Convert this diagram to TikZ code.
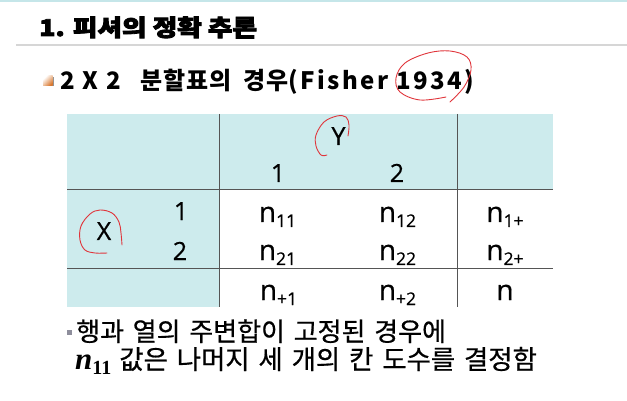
\documentclass[tikz,border=0pt]{standalone}
\usepackage{fontspec}
\newfontfamily\krfont[WordSpace=1.5, FakeBold=0.6]{Noto Sans CJK KR}
\newfontfamily\krsub[WordSpace=2, LetterSpace=3]{Noto Sans CJK KR}
\newfontfamily\sublat[LetterSpace=10]{Noto Sans CJK KR}
\newfontfamily\titlefont[FakeBold=3.5]{Noto Sans CJK KR}
\newfontfamily\tabfont[FakeBold=0.6]{Open Sans}
\newfontfamily\serifmath{Liberation Serif}
\definecolor{cellcyan}{HTML}{CDEBED}
\definecolor{stripcyan}{HTML}{C5E6E9}
\definecolor{rulegray}{HTML}{D6D6D6}
\definecolor{penred}{HTML}{E0353B}
\definecolor{gridgray}{HTML}{555555}
\definecolor{bulletgray}{HTML}{8E8E9C}
\definecolor{bulletorange}{HTML}{D9782F}
\newcommand{\cellN}[1]{{\fontsize{28}{28}\selectfont n}\raisebox{-5pt}{\fontsize{17.5}{17.5}\selectfont #1}}
\tikzset{
  redpen/.style={draw=penred, line width=0.9pt, line cap=round},
  gridline/.style={draw=gridgray, line width=1pt},
  tabtext/.style={anchor=base, inner sep=0pt, font=\tabfont\fontsize{25}{25}\selectfont},
  ntext/.style={anchor=base, inner sep=0pt, font=\tabfont},
  textline/.style={anchor=base west, inner sep=0pt},
}
\begin{document}
\begin{tikzpicture}[x=1pt,y=-1pt]
\useasboundingbox (0,0) rectangle (627,401);
% top strip and rule
\fill[stripcyan] (0,0) rectangle (627,2.5);
\coordinate (ruleL) at (16,45);
\coordinate (ruleR) at (627,45);
\draw[rulegray, line width=1.5pt] (ruleL) -- (ruleR);
% title
\node[textline] (title) at (39,36)
  {\scalebox{1.16}[1]{\titlefont\bfseries\fontsize{23}{23}\selectfont 1. 피셔의 정확 추론}};
% subtitle bullet
\fill[gray!85] (44.3,77.3) rectangle (53.5,86.5);
\shade[top color=white, bottom color=bulletorange, shading angle=45] (43,76) rectangle (52.5,85.5);
\node[textline] (subtitle) at (60,90)
  {\bfseries\fontsize{24}{24}\selectfont{\sublat 2 X 2}\hspace{20pt}{\krsub 분할표의 경우}{\sublat (Fisher 1934)}};
% table
\coordinate (TL) at (67,114);
\coordinate (BR) at (553,307);
\coordinate (V1t) at (219,114);
\coordinate (V1b) at (219,307);
\coordinate (V2t) at (457,114);
\coordinate (V2b) at (457,307);
\coordinate (H1l) at (67,190);
\coordinate (H1r) at (553,190);
\coordinate (H2l) at (67,268);
\coordinate (H2r) at (553,268);
\fill[cellcyan] (TL) rectangle (BR);
\fill[white] (219,190) rectangle (BR);
\draw[gridline] (H1l) -- (H1r);
\draw[gridline] (H2l) -- (H2r);
\draw[gridline] (V1t) -- (V1b);
\draw[gridline] (V2t) -- (V2b);
% header texts
\node[tabtext] (Y) at (338.5,145) {Y};
\node[tabtext] (c1) at (278,182) {1};
\node[tabtext] (c2) at (397,182) {2};
\node[tabtext] (X) at (104,240) {X};
\node[tabtext] (r1) at (181,220) {1};
\node[tabtext] (r2) at (180,260) {2};
% cells
\node[ntext] (n11) at (277.5,222) {\cellN{11}};
\node[ntext] (n12) at (397.5,222) {\cellN{12}};
\node[ntext] (n1p) at (505,222) {\cellN{1+}};
\node[ntext] (n21) at (277.5,260) {\cellN{21}};
\node[ntext] (n22) at (397.5,260) {\cellN{22}};
\node[ntext] (n2p) at (505,260) {\cellN{2+}};
\node[ntext] (np1) at (278.5,300) {\cellN{+1}};
\node[ntext] (np2) at (397.5,300) {\cellN{+2}};
\node[ntext] (nn) at (505,300) {\fontsize{28}{28}\selectfont n};
% bottom text
\fill[bulletgray] (67,330) rectangle (72,335);
\node[textline] (line1) at (76,341)
  {\krfont\fontsize{26}{26}\selectfont 행과 열의 주변합이 고정된 경우에};
\node[textline] (line2) at (75,369)
  {{\serifmath\bfseries{\itshape\fontsize{31}{31}\selectfont n}\raisebox{-5pt}{\fontsize{20}{20}\selectfont 11}}\hspace{8pt}{\krfont\fontsize{26.4}{26.4}\selectfont 값은 나머지 세 개의 칸 도수를 결정함}};
% red pen annotations
\draw[redpen] plot[smooth, tension=0.6] coordinates {(446,97) (420,100) (400,92) (396,78) (405,63) (428,53) (450,51) (467,57) (471,70) (464,87) (450,102)};
\draw[redpen] plot[smooth, tension=0.6] coordinates {(327,155) (321,155) (316,146) (316,135) (324,122) (337,116) (346,117) (349,125) (348,136)};
\draw[redpen] plot[smooth, tension=0.6] coordinates {(107,253) (95,253) (85,250) (80,240) (81,226) (90,214) (100,210) (112,213) (119,222) (121,233) (122,245)};
\end{tikzpicture}
\end{document}
